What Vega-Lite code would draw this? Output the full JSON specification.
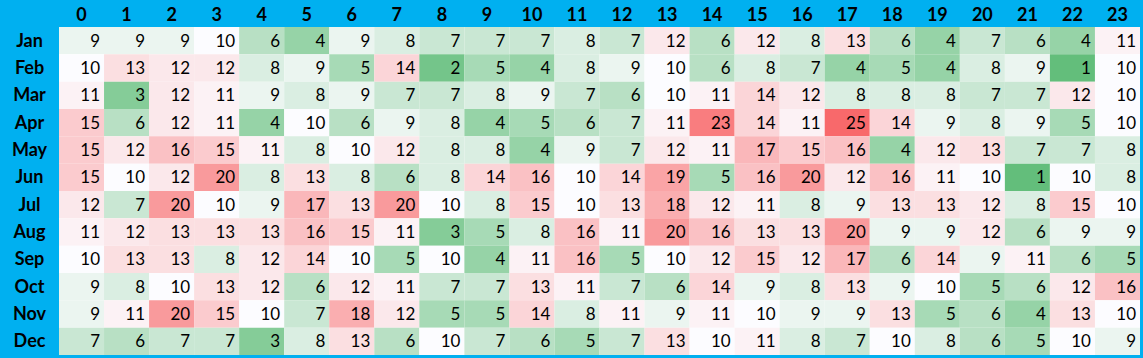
{
  "$schema": "https://vega.github.io/schema/vega-lite/v6.json",
  "autosize": {"type": "none"},
  "width": 1081,
  "height": 328,
  "padding": {"left": 59, "top": 27, "right": 3, "bottom": 3},
  "background": "#00B0F0",
  "config": {"view": {"stroke": null, "fill": "white"}, "font": "Lato"},
  "data": {"values": [
{"m":"Jan","h":0,"v":9},{"m":"Jan","h":1,"v":9},{"m":"Jan","h":2,"v":9},{"m":"Jan","h":3,"v":10},{"m":"Jan","h":4,"v":6},{"m":"Jan","h":5,"v":4},{"m":"Jan","h":6,"v":9},{"m":"Jan","h":7,"v":8},{"m":"Jan","h":8,"v":7},{"m":"Jan","h":9,"v":7},{"m":"Jan","h":10,"v":7},{"m":"Jan","h":11,"v":8},{"m":"Jan","h":12,"v":7},{"m":"Jan","h":13,"v":12},{"m":"Jan","h":14,"v":6},{"m":"Jan","h":15,"v":12},{"m":"Jan","h":16,"v":8},{"m":"Jan","h":17,"v":13},{"m":"Jan","h":18,"v":6},{"m":"Jan","h":19,"v":4},{"m":"Jan","h":20,"v":7},{"m":"Jan","h":21,"v":6},{"m":"Jan","h":22,"v":4},{"m":"Jan","h":23,"v":11},
{"m":"Feb","h":0,"v":10},{"m":"Feb","h":1,"v":13},{"m":"Feb","h":2,"v":12},{"m":"Feb","h":3,"v":12},{"m":"Feb","h":4,"v":8},{"m":"Feb","h":5,"v":9},{"m":"Feb","h":6,"v":5},{"m":"Feb","h":7,"v":14},{"m":"Feb","h":8,"v":2},{"m":"Feb","h":9,"v":5},{"m":"Feb","h":10,"v":4},{"m":"Feb","h":11,"v":8},{"m":"Feb","h":12,"v":9},{"m":"Feb","h":13,"v":10},{"m":"Feb","h":14,"v":6},{"m":"Feb","h":15,"v":8},{"m":"Feb","h":16,"v":7},{"m":"Feb","h":17,"v":4},{"m":"Feb","h":18,"v":5},{"m":"Feb","h":19,"v":4},{"m":"Feb","h":20,"v":8},{"m":"Feb","h":21,"v":9},{"m":"Feb","h":22,"v":1},{"m":"Feb","h":23,"v":10},
{"m":"Mar","h":0,"v":11},{"m":"Mar","h":1,"v":3},{"m":"Mar","h":2,"v":12},{"m":"Mar","h":3,"v":11},{"m":"Mar","h":4,"v":9},{"m":"Mar","h":5,"v":8},{"m":"Mar","h":6,"v":9},{"m":"Mar","h":7,"v":7},{"m":"Mar","h":8,"v":7},{"m":"Mar","h":9,"v":8},{"m":"Mar","h":10,"v":9},{"m":"Mar","h":11,"v":7},{"m":"Mar","h":12,"v":6},{"m":"Mar","h":13,"v":10},{"m":"Mar","h":14,"v":11},{"m":"Mar","h":15,"v":14},{"m":"Mar","h":16,"v":12},{"m":"Mar","h":17,"v":8},{"m":"Mar","h":18,"v":8},{"m":"Mar","h":19,"v":8},{"m":"Mar","h":20,"v":7},{"m":"Mar","h":21,"v":7},{"m":"Mar","h":22,"v":12},{"m":"Mar","h":23,"v":10},
{"m":"Apr","h":0,"v":15},{"m":"Apr","h":1,"v":6},{"m":"Apr","h":2,"v":12},{"m":"Apr","h":3,"v":11},{"m":"Apr","h":4,"v":4},{"m":"Apr","h":5,"v":10},{"m":"Apr","h":6,"v":6},{"m":"Apr","h":7,"v":9},{"m":"Apr","h":8,"v":8},{"m":"Apr","h":9,"v":4},{"m":"Apr","h":10,"v":5},{"m":"Apr","h":11,"v":6},{"m":"Apr","h":12,"v":7},{"m":"Apr","h":13,"v":11},{"m":"Apr","h":14,"v":23},{"m":"Apr","h":15,"v":14},{"m":"Apr","h":16,"v":11},{"m":"Apr","h":17,"v":25},{"m":"Apr","h":18,"v":14},{"m":"Apr","h":19,"v":9},{"m":"Apr","h":20,"v":8},{"m":"Apr","h":21,"v":9},{"m":"Apr","h":22,"v":5},{"m":"Apr","h":23,"v":10},
{"m":"May","h":0,"v":15},{"m":"May","h":1,"v":12},{"m":"May","h":2,"v":16},{"m":"May","h":3,"v":15},{"m":"May","h":4,"v":11},{"m":"May","h":5,"v":8},{"m":"May","h":6,"v":10},{"m":"May","h":7,"v":12},{"m":"May","h":8,"v":8},{"m":"May","h":9,"v":8},{"m":"May","h":10,"v":4},{"m":"May","h":11,"v":9},{"m":"May","h":12,"v":7},{"m":"May","h":13,"v":12},{"m":"May","h":14,"v":11},{"m":"May","h":15,"v":17},{"m":"May","h":16,"v":15},{"m":"May","h":17,"v":16},{"m":"May","h":18,"v":4},{"m":"May","h":19,"v":12},{"m":"May","h":20,"v":13},{"m":"May","h":21,"v":7},{"m":"May","h":22,"v":7},{"m":"May","h":23,"v":8},
{"m":"Jun","h":0,"v":15},{"m":"Jun","h":1,"v":10},{"m":"Jun","h":2,"v":12},{"m":"Jun","h":3,"v":20},{"m":"Jun","h":4,"v":8},{"m":"Jun","h":5,"v":13},{"m":"Jun","h":6,"v":8},{"m":"Jun","h":7,"v":6},{"m":"Jun","h":8,"v":8},{"m":"Jun","h":9,"v":14},{"m":"Jun","h":10,"v":16},{"m":"Jun","h":11,"v":10},{"m":"Jun","h":12,"v":14},{"m":"Jun","h":13,"v":19},{"m":"Jun","h":14,"v":5},{"m":"Jun","h":15,"v":16},{"m":"Jun","h":16,"v":20},{"m":"Jun","h":17,"v":12},{"m":"Jun","h":18,"v":16},{"m":"Jun","h":19,"v":11},{"m":"Jun","h":20,"v":10},{"m":"Jun","h":21,"v":1},{"m":"Jun","h":22,"v":10},{"m":"Jun","h":23,"v":8},
{"m":"Jul","h":0,"v":12},{"m":"Jul","h":1,"v":7},{"m":"Jul","h":2,"v":20},{"m":"Jul","h":3,"v":10},{"m":"Jul","h":4,"v":9},{"m":"Jul","h":5,"v":17},{"m":"Jul","h":6,"v":13},{"m":"Jul","h":7,"v":20},{"m":"Jul","h":8,"v":10},{"m":"Jul","h":9,"v":8},{"m":"Jul","h":10,"v":15},{"m":"Jul","h":11,"v":10},{"m":"Jul","h":12,"v":13},{"m":"Jul","h":13,"v":18},{"m":"Jul","h":14,"v":12},{"m":"Jul","h":15,"v":11},{"m":"Jul","h":16,"v":8},{"m":"Jul","h":17,"v":9},{"m":"Jul","h":18,"v":13},{"m":"Jul","h":19,"v":13},{"m":"Jul","h":20,"v":12},{"m":"Jul","h":21,"v":8},{"m":"Jul","h":22,"v":15},{"m":"Jul","h":23,"v":10},
{"m":"Aug","h":0,"v":11},{"m":"Aug","h":1,"v":12},{"m":"Aug","h":2,"v":13},{"m":"Aug","h":3,"v":13},{"m":"Aug","h":4,"v":13},{"m":"Aug","h":5,"v":16},{"m":"Aug","h":6,"v":15},{"m":"Aug","h":7,"v":11},{"m":"Aug","h":8,"v":3},{"m":"Aug","h":9,"v":5},{"m":"Aug","h":10,"v":8},{"m":"Aug","h":11,"v":16},{"m":"Aug","h":12,"v":11},{"m":"Aug","h":13,"v":20},{"m":"Aug","h":14,"v":16},{"m":"Aug","h":15,"v":13},{"m":"Aug","h":16,"v":13},{"m":"Aug","h":17,"v":20},{"m":"Aug","h":18,"v":9},{"m":"Aug","h":19,"v":9},{"m":"Aug","h":20,"v":12},{"m":"Aug","h":21,"v":6},{"m":"Aug","h":22,"v":9},{"m":"Aug","h":23,"v":9},
{"m":"Sep","h":0,"v":10},{"m":"Sep","h":1,"v":13},{"m":"Sep","h":2,"v":13},{"m":"Sep","h":3,"v":8},{"m":"Sep","h":4,"v":12},{"m":"Sep","h":5,"v":14},{"m":"Sep","h":6,"v":10},{"m":"Sep","h":7,"v":5},{"m":"Sep","h":8,"v":10},{"m":"Sep","h":9,"v":4},{"m":"Sep","h":10,"v":11},{"m":"Sep","h":11,"v":16},{"m":"Sep","h":12,"v":5},{"m":"Sep","h":13,"v":10},{"m":"Sep","h":14,"v":12},{"m":"Sep","h":15,"v":15},{"m":"Sep","h":16,"v":12},{"m":"Sep","h":17,"v":17},{"m":"Sep","h":18,"v":6},{"m":"Sep","h":19,"v":14},{"m":"Sep","h":20,"v":9},{"m":"Sep","h":21,"v":11},{"m":"Sep","h":22,"v":6},{"m":"Sep","h":23,"v":5},
{"m":"Oct","h":0,"v":9},{"m":"Oct","h":1,"v":8},{"m":"Oct","h":2,"v":10},{"m":"Oct","h":3,"v":13},{"m":"Oct","h":4,"v":12},{"m":"Oct","h":5,"v":6},{"m":"Oct","h":6,"v":12},{"m":"Oct","h":7,"v":11},{"m":"Oct","h":8,"v":7},{"m":"Oct","h":9,"v":7},{"m":"Oct","h":10,"v":13},{"m":"Oct","h":11,"v":11},{"m":"Oct","h":12,"v":7},{"m":"Oct","h":13,"v":6},{"m":"Oct","h":14,"v":14},{"m":"Oct","h":15,"v":9},{"m":"Oct","h":16,"v":8},{"m":"Oct","h":17,"v":13},{"m":"Oct","h":18,"v":9},{"m":"Oct","h":19,"v":10},{"m":"Oct","h":20,"v":5},{"m":"Oct","h":21,"v":6},{"m":"Oct","h":22,"v":12},{"m":"Oct","h":23,"v":16},
{"m":"Nov","h":0,"v":9},{"m":"Nov","h":1,"v":11},{"m":"Nov","h":2,"v":20},{"m":"Nov","h":3,"v":15},{"m":"Nov","h":4,"v":10},{"m":"Nov","h":5,"v":7},{"m":"Nov","h":6,"v":18},{"m":"Nov","h":7,"v":12},{"m":"Nov","h":8,"v":5},{"m":"Nov","h":9,"v":5},{"m":"Nov","h":10,"v":14},{"m":"Nov","h":11,"v":8},{"m":"Nov","h":12,"v":11},{"m":"Nov","h":13,"v":9},{"m":"Nov","h":14,"v":11},{"m":"Nov","h":15,"v":10},{"m":"Nov","h":16,"v":9},{"m":"Nov","h":17,"v":9},{"m":"Nov","h":18,"v":13},{"m":"Nov","h":19,"v":5},{"m":"Nov","h":20,"v":6},{"m":"Nov","h":21,"v":4},{"m":"Nov","h":22,"v":13},{"m":"Nov","h":23,"v":10},
{"m":"Dec","h":0,"v":7},{"m":"Dec","h":1,"v":6},{"m":"Dec","h":2,"v":7},{"m":"Dec","h":3,"v":7},{"m":"Dec","h":4,"v":3},{"m":"Dec","h":5,"v":8},{"m":"Dec","h":6,"v":13},{"m":"Dec","h":7,"v":6},{"m":"Dec","h":8,"v":10},{"m":"Dec","h":9,"v":7},{"m":"Dec","h":10,"v":6},{"m":"Dec","h":11,"v":5},{"m":"Dec","h":12,"v":7},{"m":"Dec","h":13,"v":13},{"m":"Dec","h":14,"v":10},{"m":"Dec","h":15,"v":11},{"m":"Dec","h":16,"v":8},{"m":"Dec","h":17,"v":7},{"m":"Dec","h":18,"v":10},{"m":"Dec","h":19,"v":8},{"m":"Dec","h":20,"v":6},{"m":"Dec","h":21,"v":5},{"m":"Dec","h":22,"v":10},{"m":"Dec","h":23,"v":9}
  ]},
  "encoding": {
    "x": {"field": "h", "type": "ordinal", "scale": {"paddingInner": 0, "paddingOuter": 0},
      "axis": {"orient": "top", "title": null, "domain": false, "ticks": false, "labelAngle": 0,
        "labelFontWeight": "bold", "labelFontSize": 18, "labelColor": "black", "labelBaseline": "middle", "labelPadding": 12, "labelFont": "Lato"}},
    "y": {"field": "m", "type": "ordinal",
      "sort": ["Jan","Feb","Mar","Apr","May","Jun","Jul","Aug","Sep","Oct","Nov","Dec"],
      "scale": {"paddingInner": 0, "paddingOuter": 0},
      "axis": {"title": null, "domain": false, "ticks": false, "labelFontWeight": "bold", "labelFontSize": 18,
        "labelColor": "black", "labelAlign": "center", "labelPadding": 30, "labelFont": "Lato", "labelOffset": 1}}
  },
  "layer": [
    {"mark": {"type": "rect"},
     "encoding": {"color": {"field": "v", "type": "quantitative", "legend": null,
        "scale": {"domain": [1, 10, 25], "range": ["#63BE7B", "#FCFCFF", "#F8696B"], "interpolate": "rgb"}}}},
    {"mark": {"type": "text", "align": "right", "baseline": "middle", "dx": -4, "dy": 1, "fontSize": 17, "color": "black", "font": "Lato"},
     "encoding": {"x": {"field": "h", "type": "ordinal", "bandPosition": 1}, "text": {"field": "v", "type": "quantitative"}}}
  ]
}
